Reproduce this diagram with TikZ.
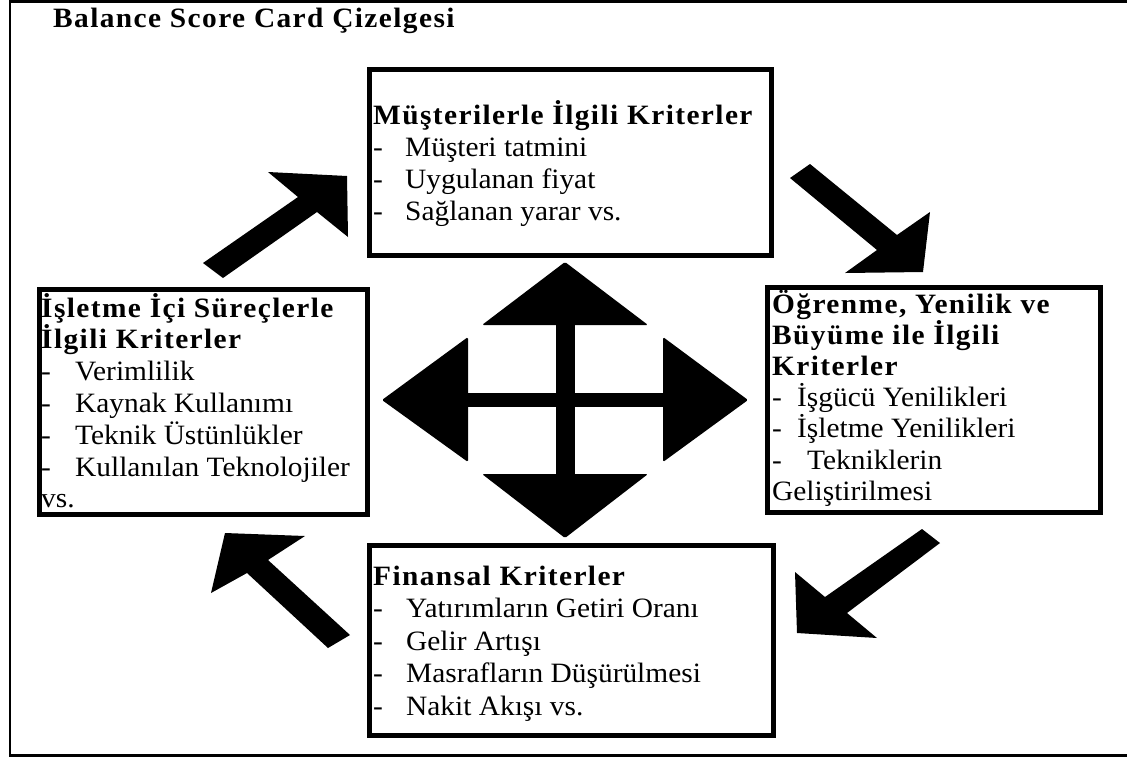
\documentclass[tikz,border=0pt]{standalone}
\usepackage{fontspec}
\setmainfont{Liberation Serif}
\newfontfamily\bodyfont{Liberation Serif}[FakeStretch=1.05]
\newfontfamily\headfont{Liberation Serif}[FakeStretch=1.05,LetterSpace=5]
\usetikzlibrary{calc}

% dash followed by the item text, the text starting #1 after the dash
\newcommand\critem[2]{\makebox[#1][l]{-}#2}

\tikzset{
  panel/.style={draw, line width=5pt, inner sep=0pt, fill=white},
  boxtext/.style={anchor=base west, inner sep=0pt},
  blockarrow/.style={fill=black},
  hubarrow/.style={fill=black, rounded corners=1.5pt},
}

\begin{document}
\begin{tikzpicture}[x=1pt, y=-1pt]
\useasboundingbox (0,0) rectangle (1127,761);

% outer frame (right side runs off the page)
\draw[line width=2.5pt] (1140,1.5) -- (10,1.5) -- (10,755.5) -- (1140,755.5);

% title
\node[boxtext] (title) at (53,27)
  {\fontsize{28}{30}\selectfont\headfont\bfseries Balance Score Card Çizelgesi};

% the four criteria panels
\node[panel, minimum width=402pt, minimum height=186pt] (customer) at (570,162) {};
\node[panel, minimum width=328pt, minimum height=225pt] (process)  at (203,401.5) {};
\node[panel, minimum width=333pt, minimum height=225pt] (learning) at (933.5,399.5) {};
\node[panel, minimum width=404pt, minimum height=190pt] (finance)  at (571,640) {};

\node[boxtext] (customertxt) at (373,124) {\parbox[t]{395pt}{%
  \fontsize{28}{32}\selectfont
  {\headfont\bfseries Müşterilerle İlgili Kriterler}\\
  \bodyfont
  \critem{32pt}{Müşteri tatmini}\\
  \critem{32pt}{Uygulanan fiyat}\\
  \critem{32pt}{Sağlanan yarar vs.}}};

\node[boxtext] (processtxt) at (41,317) {\parbox[t]{322pt}{%
  \fontsize{28}{31.8}\selectfont
  {\headfont\bfseries İşletme İçi Süreçlerle}\\
  {\headfont\bfseries İlgili Kriterler}\\
  \bodyfont
  \critem{34pt}{Verimlilik}\\
  \critem{34pt}{Kaynak Kullanımı}\\
  \critem{34pt}{Teknik Üstünlükler}\\
  \critem{34pt}{Kullanılan Teknolojiler}\\
  vs.}};

\node[boxtext] (learningtxt) at (772,313) {\parbox[t]{326pt}{%
  \fontsize{28}{31.2}\selectfont
  {\headfont\bfseries Öğrenme, Yenilik ve}\\
  {\headfont\bfseries Büyüme ile İlgili}\\
  {\headfont\bfseries Kriterler}\\
  \bodyfont
  \critem{25pt}{İşgücü Yenilikleri}\\
  \critem{25pt}{İşletme Yenilikleri}\\
  \critem{35pt}{Tekniklerin}\\
  Geliştirilmesi}};

\node[boxtext] (financetxt) at (373,585) {\parbox[t]{398pt}{%
  \fontsize{28}{32.5}\selectfont
  {\headfont\bfseries Finansal Kriterler}\\
  \bodyfont
  \critem{33pt}{Yatırımların Getiri Oranı}\\
  \critem{33pt}{Gelir Artışı}\\
  \critem{33pt}{Masrafların Düşürülmesi}\\
  \critem{33pt}{Nakit Akışı vs.}}};

% block arrows running clockwise round the panels
\fill[blockarrow] (203,263) -- (298,197) -- (268,172) -- (347,176)
                  -- (348,237) -- (317,212) -- (223,278) -- cycle;
\fill[blockarrow] (790,178) -- (810,164) -- (897,235) -- (930,212)
                  -- (923,272) -- (845,273) -- (877,250) -- cycle;
\fill[blockarrow] (922,529) -- (825,597) -- (795,572) -- (797,633)
                  -- (877,638) -- (847,613) -- (940,543) -- cycle;
\fill[blockarrow] (350,635) -- (268,560) -- (305,536) -- (225,533)
                  -- (211,593) -- (247,573) -- (328,648) -- cycle;

% four-way arrow in the middle
\fill[black] (556,320) rectangle (575,480);
\fill[black] (460,393) rectangle (670,407);
\fill[hubarrow] (565,262) -- (648,325) -- (482,325) -- cycle;
\fill[hubarrow] (565,538) -- (648,474) -- (482,474) -- cycle;
\fill[hubarrow] (382,400) -- (468,337) -- (468,462) -- cycle;
\fill[hubarrow] (748,400) -- (663,337) -- (663,462) -- cycle;
\end{tikzpicture}
\end{document}
